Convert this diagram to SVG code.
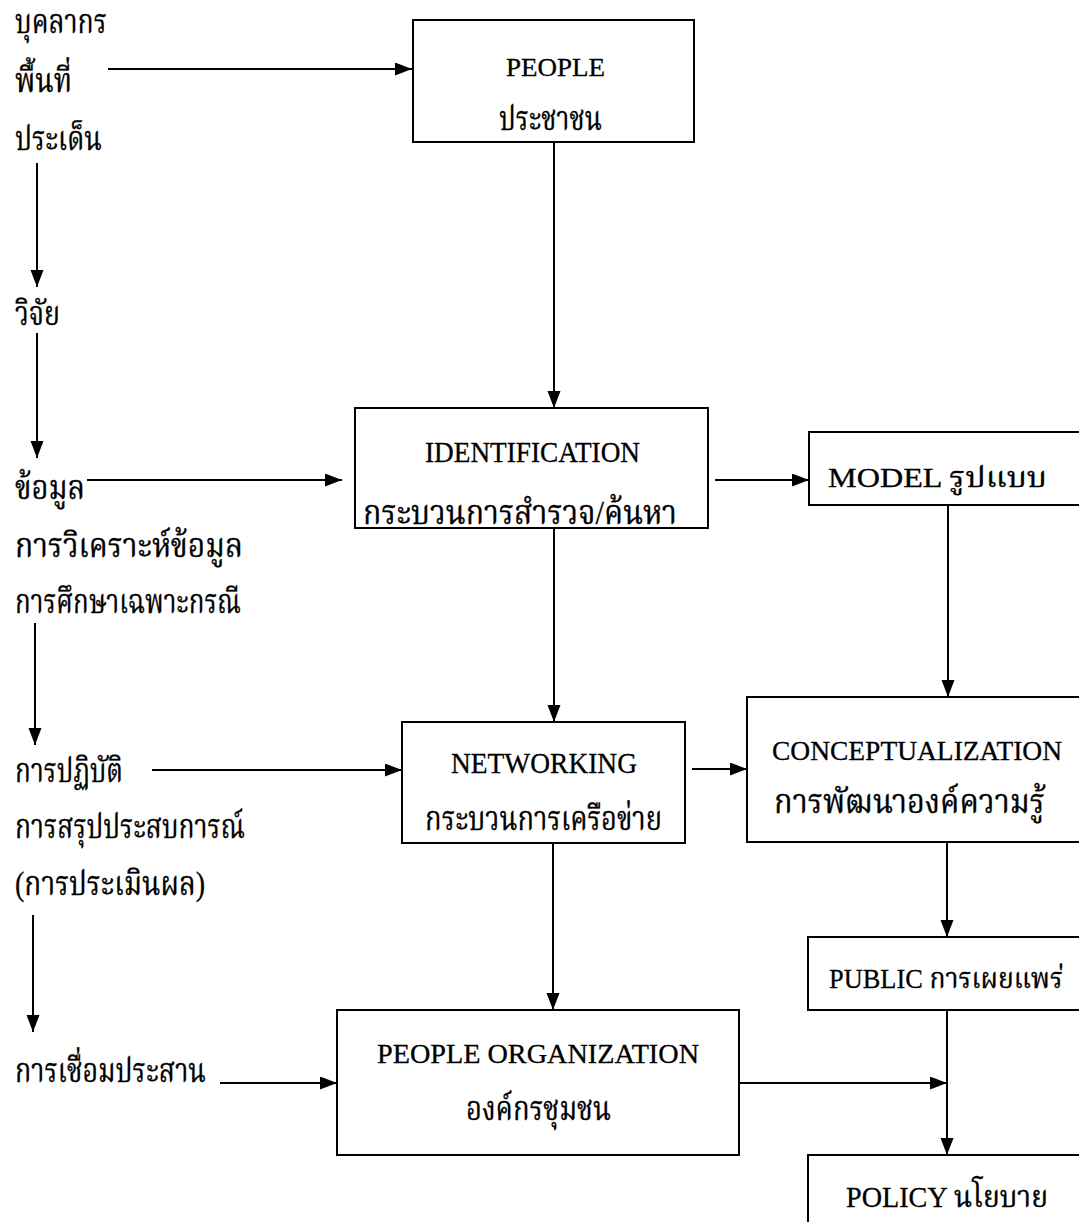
<svg xmlns="http://www.w3.org/2000/svg" width="1079" height="1222" viewBox="0 0 1079 1222">
<style>
  .box { fill: #fff; stroke: #000; stroke-width: 2; }
  .ln { stroke: #000; stroke-width: 2; fill: none; marker-end: url(#ah); }
  text { font-family: "Liberation Serif", "Noto Serif Thai", "Noto Sans Thai", "Noto Sans", serif; fill: #000; stroke: #000; stroke-width: 0.3; }
  .th { font-size: 33px; }
</style>
<defs>
  <marker id="ah" markerUnits="userSpaceOnUse" markerWidth="18" markerHeight="14" refX="17" refY="6.5" orient="auto">
    <path d="M0,0 L17,6.5 L0,13 z" fill="#000"/>
  </marker>
</defs>
<rect width="1079" height="1222" fill="#fff"/>

<g id="left-labels">
  <text class="th" x="15" y="33" textLength="92" lengthAdjust="spacingAndGlyphs">บุคลากร</text>
  <text class="th" x="15" y="92" textLength="57" lengthAdjust="spacingAndGlyphs">พื้นที่</text>
  <text class="th" x="15" y="150" textLength="87" lengthAdjust="spacingAndGlyphs">ประเด็น</text>
  <text class="th" x="15" y="325" textLength="45" lengthAdjust="spacingAndGlyphs">วิจัย</text>
  <text class="th" x="15" y="499" textLength="70" lengthAdjust="spacingAndGlyphs">ข้อมูล</text>
  <text class="th" x="15" y="557" textLength="228" lengthAdjust="spacingAndGlyphs">การวิเคราะห์ข้อมูล</text>
  <text class="th" x="15" y="613" textLength="226" lengthAdjust="spacingAndGlyphs">การศึกษาเฉพาะกรณี</text>
  <text class="th" x="15" y="782" textLength="108" lengthAdjust="spacingAndGlyphs">การปฏิบัติ</text>
  <text class="th" x="15" y="838" textLength="230" lengthAdjust="spacingAndGlyphs">การสรุปประสบการณ์</text>
  <text class="th" x="15" y="895" textLength="190" lengthAdjust="spacingAndGlyphs">(การประเมินผล)</text>
  <text class="th" x="15" y="1082" textLength="191" lengthAdjust="spacingAndGlyphs">การเชื่อมประสาน</text>
</g>

<g id="node-people">
  <rect class="box" x="413" y="20" width="281" height="122"/>
  <text style="font-size:25px" x="506" y="76" textLength="99" lengthAdjust="spacingAndGlyphs">PEOPLE</text>
  <text class="th" x="499" y="130" textLength="103" lengthAdjust="spacingAndGlyphs">ประชาชน</text>
</g>

<g id="node-identification">
  <rect class="box" x="355" y="408" width="353" height="120"/>
  <text style="font-size:29px" x="425" y="462" textLength="215" lengthAdjust="spacingAndGlyphs">IDENTIFICATION</text>
  <text class="th" x="363" y="524" textLength="314" lengthAdjust="spacingAndGlyphs">กระบวนการสำรวจ/ค้นหา</text>
</g>

<g id="node-model">
  <rect class="box" x="809" y="432" width="290" height="73"/>
  <text style="font-size:28px" x="828" y="487" textLength="219" lengthAdjust="spacingAndGlyphs">MODEL  รูปแบบ</text>
</g>

<g id="node-networking">
  <rect class="box" x="402" y="722" width="283" height="121"/>
  <text style="font-size:29px" x="451" y="773" textLength="186" lengthAdjust="spacingAndGlyphs">NETWORKING</text>
  <text class="th" x="425" y="830" textLength="237" lengthAdjust="spacingAndGlyphs">กระบวนการเครือข่าย</text>
</g>

<g id="node-conceptualization">
  <rect class="box" x="747" y="697" width="352" height="145"/>
  <text style="font-size:28px" x="772" y="760" textLength="290" lengthAdjust="spacingAndGlyphs">CONCEPTUALIZATION</text>
  <text class="th" x="774" y="813" textLength="271" lengthAdjust="spacingAndGlyphs">การพัฒนาองค์ความรู้</text>
</g>

<g id="node-public">
  <rect class="box" x="808" y="937" width="291" height="73"/>
  <text style="font-size:28px" x="829" y="988" textLength="234" lengthAdjust="spacingAndGlyphs">PUBLIC  การเผยแพร่</text>
</g>

<g id="node-people-organization">
  <rect class="box" x="337" y="1010" width="402" height="145"/>
  <text style="font-size:27px" x="377" y="1063" textLength="322" lengthAdjust="spacingAndGlyphs">PEOPLE  ORGANIZATION</text>
  <text class="th" x="466" y="1120" textLength="145" lengthAdjust="spacingAndGlyphs">องค์กรชุมชน</text>
</g>

<g id="node-policy">
  <rect class="box" x="808" y="1155" width="291" height="80"/>
  <text style="font-size:30px" x="846" y="1207" textLength="202" lengthAdjust="spacingAndGlyphs">POLICY  นโยบาย</text>
</g>

<g id="connectors">
  <line class="ln" x1="108" y1="69" x2="412" y2="69"/>
  <line class="ln" x1="37" y1="163" x2="37" y2="287"/>
  <line class="ln" x1="37" y1="333" x2="37" y2="458"/>
  <line class="ln" x1="87" y1="480" x2="342" y2="480"/>
  <line class="ln" x1="35" y1="623" x2="35" y2="745"/>
  <line class="ln" x1="152" y1="770" x2="402" y2="770"/>
  <line class="ln" x1="33" y1="915" x2="33" y2="1032"/>
  <line class="ln" x1="220" y1="1083" x2="337" y2="1083"/>
  <line class="ln" x1="554" y1="142" x2="554" y2="408"/>
  <line class="ln" x1="715" y1="480" x2="809" y2="480"/>
  <line class="ln" x1="554" y1="528" x2="554" y2="722"/>
  <line class="ln" x1="948" y1="505" x2="948" y2="697"/>
  <line class="ln" x1="692" y1="769" x2="747" y2="769"/>
  <line class="ln" x1="553" y1="843" x2="553" y2="1010"/>
  <line class="ln" x1="947" y1="842" x2="947" y2="937"/>
  <line class="ln" x1="947" y1="1010" x2="947" y2="1155"/>
  <line class="ln" x1="739" y1="1083" x2="947" y2="1083"/>
</g>
</svg>
